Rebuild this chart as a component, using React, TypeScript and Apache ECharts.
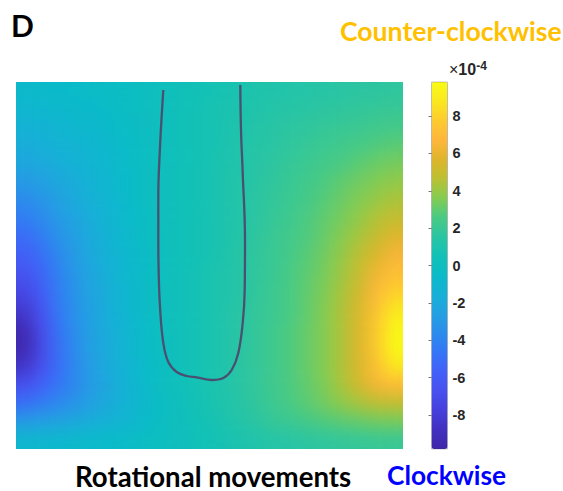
import React, { useEffect, useRef } from "react";
import * as echarts from "echarts";

const columns = ["c1","c2","c3","c4","c5","c6","c7","c8","c9","c10","c11","c12","c13","c14","c15","c16","c17","c18","c19","c20","c21","c22"];
const rows = ["r1","r2","r3","r4","r5","r6","r7","r8","r9","r10","r11","r12","r13","r14","r15","r16","r17","r18","r19","r20"];
const surface: number[][] = [
  [-0.7,-0.6,-0.6,-0.5,-0.4,-0.3,-0.2,0,0.2,0.4,0.5,0.7,0.8,1,1.1,1.2,1.3,1.4,1.5,1.6,1.6,1.7],
  [-1,-0.9,-0.8,-0.7,-0.6,-0.4,-0.2,0,0.2,0.4,0.6,0.8,0.9,1.1,1.3,1.4,1.5,1.6,1.7,1.8,1.9,2],
  [-1.4,-1.3,-1.1,-0.9,-0.8,-0.6,-0.3,-0.1,0.2,0.4,0.6,0.8,1,1.2,1.4,1.6,1.7,1.9,2,2.1,2.3,2.4],
  [-1.8,-1.6,-1.4,-1.2,-1,-0.7,-0.4,-0.1,0.2,0.4,0.6,0.8,1.1,1.3,1.5,1.7,1.9,2.1,2.3,2.5,2.7,2.9],
  [-2.2,-2,-1.7,-1.4,-1.1,-0.8,-0.4,-0.1,0.2,0.4,0.6,0.9,1.1,1.4,1.6,1.9,2.1,2.4,2.6,2.9,3.2,3.4],
  [-3,-2.6,-2.1,-1.7,-1.3,-0.9,-0.5,-0.1,0.2,0.4,0.6,0.9,1.2,1.4,1.7,2,2.3,2.6,3,3.3,3.6,3.9],
  [-3.7,-3.2,-2.5,-1.9,-1.4,-1,-0.5,-0.1,0.2,0.4,0.6,0.9,1.2,1.5,1.8,2.1,2.4,2.8,3.2,3.6,4,4.4],
  [-4.4,-3.7,-2.9,-2.2,-1.6,-1.1,-0.6,-0.2,0.2,0.4,0.6,0.9,1.2,1.5,1.9,2.2,2.6,3,3.4,3.9,4.5,5],
  [-5.2,-4.3,-3.3,-2.5,-1.8,-1.2,-0.7,-0.2,0.1,0.4,0.6,0.9,1.2,1.6,2,2.3,2.7,3.1,3.7,4.3,5,5.8],
  [-5.9,-4.9,-3.7,-2.7,-1.9,-1.3,-0.8,-0.3,0.1,0.4,0.6,0.9,1.3,1.7,2,2.4,2.8,3.3,3.9,4.7,5.6,6.5],
  [-6.6,-5.4,-4,-2.9,-2.1,-1.4,-0.8,-0.3,0.1,0.4,0.7,1,1.3,1.7,2,2.5,2.9,3.4,4.1,5,6.3,7.2],
  [-7.4,-5.8,-4.2,-3,-2.2,-1.5,-0.9,-0.3,0.1,0.4,0.7,1,1.3,1.7,2.1,2.5,3,3.5,4.3,5.3,6.8,8],
  [-8.3,-6.3,-4.4,-3.2,-2.3,-1.5,-0.9,-0.3,0.1,0.4,0.7,1,1.4,1.8,2.1,2.5,3,3.6,4.4,5.5,7.3,8.9],
  [-9.4,-6.8,-4.6,-3.3,-2.3,-1.6,-1,-0.4,0.1,0.4,0.7,1,1.4,1.8,2.2,2.6,3.1,3.6,4.4,5.6,7.6,9.6],
  [-9.6,-7,-4.8,-3.4,-2.4,-1.7,-1,-0.4,0,0.4,0.7,1,1.4,1.8,2.2,2.6,3.1,3.6,4.4,5.6,7.6,9.7],
  [-8.5,-6.6,-4.9,-3.5,-2.5,-1.7,-1.1,-0.5,0,0.4,0.7,1,1.4,1.8,2.2,2.6,3.1,3.6,4.4,5.5,7.2,8.8],
  [-6.8,-5.6,-4.5,-3.6,-2.7,-1.9,-1.2,-0.6,0,0.3,0.7,1,1.4,1.8,2.2,2.6,3,3.5,4.3,5.3,6.4,7],
  [-5,-4.3,-3.7,-3.1,-2.4,-1.8,-1.2,-0.6,-0.1,0.3,0.6,1,1.3,1.7,2.1,2.5,2.9,3.3,3.8,4.3,4.7,4.9],
  [-2.9,-2.6,-2.4,-2,-1.7,-1.4,-1,-0.5,-0.1,0.2,0.5,0.8,1.2,1.5,1.9,2.1,2.4,2.7,2.9,3.1,3.3,3.4],
  [-0.9,-0.9,-0.8,-0.7,-0.6,-0.5,-0.4,-0.2,0,0.2,0.4,0.6,0.9,1.1,1.3,1.4,1.6,1.7,1.8,1.9,2,2],
];
const outlineX = [147.3,144,142.3,142.3,142.7,144,147.3,152.3,160.7,170.7,180.7,195.7,207.3,215.7,222.3,226.7,228.7,229,226.7,225,224.3];
const outlineY = [8,65,115,158,191,225,261,280,290,294,295.3,298,296,288,271,241,208,158,91,48,3];
const colorbarTicks = [-8,-6,-4,-2,0,2,4,6,8];
const colorStops = ["#3e26a8","#4130c0","#4540dc","#4850ee","#4260f8","#3575f6","#2c8cec","#23a0e2","#16b0d6","#0abbc8","#12c1b6","#2ac5a3","#4aca83","#84cc52","#bcc032","#deb52c","#ffb63c","#fdcb2e","#fae81f","#f9fb15"];
const VMAX = 9.82;

const plot = { left: 16, top: 82, width: 387, height: 367 };
const bar = { left: 431.5, top: 82, width: 16, height: 367 };

export default function App() {
  const heatRef = useRef<HTMLDivElement>(null);
  const ref = useRef<HTMLDivElement>(null);
  useEffect(() => {
    const cells: [number, number, number][] = [];
    surface.forEach((row, r) => row.forEach((v, c) => cells.push([c, r, v])));
    const heat = echarts.init(heatRef.current!, undefined, { renderer: "svg" });
    heat.setOption({
      animation: false,
      grid: { left: 0, top: 0, right: 0, bottom: 0 },
      xAxis: { type: "category", data: columns, show: false },
      yAxis: { type: "category", data: rows, inverse: true, show: false },
      visualMap: { type: "continuous", show: false, min: -VMAX, max: VMAX, inRange: { color: colorStops } },
      series: [{ type: "heatmap", data: cells, progressive: 0, itemStyle: { borderWidth: 0 }, emphasis: { disabled: true } }],
    });

    const chart = echarts.init(ref.current!, undefined, { renderer: "svg" });
    const latin = "Lato";
    chart.setOption({
      animation: false,
      grid: [
        { ...plot, show: false },
        { ...bar, show: true, z: 8, backgroundColor: "transparent", borderColor: "rgba(60,60,60,0.45)", borderWidth: 0.6 },
      ],
      xAxis: [
        { type: "value", gridIndex: 0, min: 0, max: plot.width, show: false },
        { type: "value", gridIndex: 1, min: 0, max: 1, show: false },
      ],
      yAxis: [
        { type: "value", gridIndex: 0, min: 0, max: plot.height, inverse: true, show: false },
        {
          type: "value", gridIndex: 1, min: -VMAX, max: VMAX, position: "right", z: 9,
          axisLine: { show: false },
          splitLine: { show: false },
          axisTick: { show: true, inside: true, length: 3, customValues: colorbarTicks, lineStyle: { color: "#555555", width: 0.8 } },
          axisLabel: {
            show: true, customValues: colorbarTicks, margin: 5,
            fontFamily: "Liberation Sans", fontWeight: "bold", fontSize: 14.5, color: "#262626",
            formatter: (v: number) => String(v),
          },
        },
      ],
      visualMap: {
        type: "continuous", seriesIndex: [], min: -VMAX, max: VMAX, calculable: false,
        left: bar.left, top: bar.top, itemWidth: bar.width, itemHeight: bar.height,
        padding: 0, showLabel: false, inRange: { color: colorStops }, borderWidth: 0,
      },
      series: [
        {
          type: "line", xAxisIndex: 0, yAxisIndex: 0, showSymbol: false, smooth: 0.4,
          data: outlineX.map((x, i) => [x, outlineY[i]]),
          lineStyle: { color: "#4a5070", width: 2.3 }, z: 5,
        },
        { type: "line", xAxisIndex: 1, yAxisIndex: 1, data: [], showSymbol: false },
      ],
      graphic: [
        { type: "text", left: 11, top: 10, style: { text: "D", fontFamily: latin, fontWeight: "bold", fontSize: 30, fill: "#000000" } },
        { type: "text", left: 340, top: 17, style: { text: "Counter-clockwise", fontFamily: latin, fontWeight: "bold", fontSize: 26.6, fill: "#ffc000" } },
        { type: "text", left: 75, top: 462, style: { text: "Rotational movements", fontFamily: latin, fontWeight: "bold", fontSize: 27.6, fill: "#000000" } },
        { type: "text", left: 387, top: 462, style: { text: "Clockwise", fontFamily: latin, fontWeight: "bold", fontSize: 26.3, fill: "#0000ff" } },
        {
          type: "text", left: 449, top: 60,
          style: {
            text: "{x|×}{b|10}{s|-4}",
            rich: {
              x: { fontFamily: "Liberation Sans", fontSize: 16, fill: "#262626" },
              b: { fontFamily: "Liberation Sans", fontWeight: "bold", fontSize: 16, fill: "#262626" },
              s: { fontFamily: "Liberation Sans", fontWeight: "bold", fontSize: 12, fill: "#262626", verticalAlign: "top", padding: [0, 0, 6, 0] },
            },
          },
        },
      ],
    });
    return () => {
      chart.dispose();
      heat.dispose();
    };
  }, []);
  return (
    <div style={{ position: "fixed", left: 0, top: 0, width: 563, height: 491, background: "#fff" }}>
      <svg width={0} height={0} style={{ position: "absolute" }}>
        <defs>
          <filter id="smoothCells" x="-10%" y="-10%" width="120%" height="120%" colorInterpolationFilters="sRGB">
            <feGaussianBlur stdDeviation={8} />
            <feComponentTransfer>
              <feFuncA type="linear" slope={60} />
            </feComponentTransfer>
          </filter>
        </defs>
      </svg>
      <div style={{ position: "absolute", left: plot.left, top: plot.top, width: plot.width, height: plot.height, overflow: "hidden" }}>
        <div ref={heatRef} style={{ width: plot.width, height: plot.height, filter: "url(#smoothCells)" }} />
      </div>
      <div ref={ref} style={{ position: "absolute", left: 0, top: 0, width: 563, height: 491 }} />
    </div>
  );
}
